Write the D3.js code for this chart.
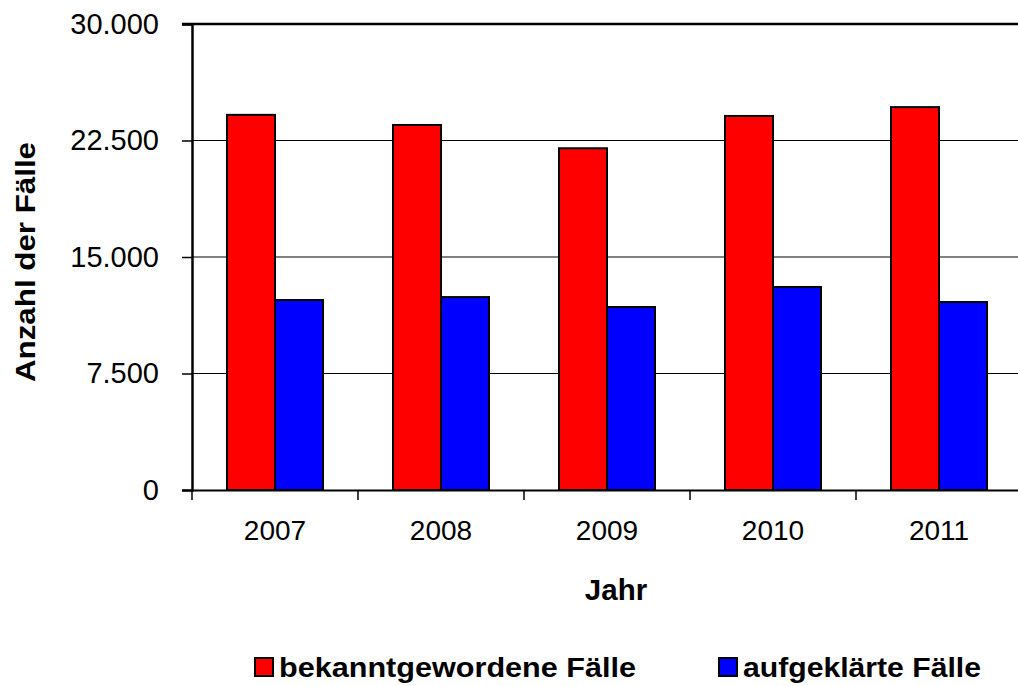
<!DOCTYPE html>
<html>
<head>
<meta charset="utf-8">
<script src="https://cdn.jsdelivr.net/npm/d3@7"></script>
<style>
  body { margin: 0; background: #fff; }
  text { font-family: "Liberation Sans", Arial, sans-serif; }
</style>
</head>
<body>
<div id="chart"></div>
<script>
const years = ['2007', '2008', '2009', '2010', '2011']
const bekannt = [24150, 23500, 22000, 24080, 24650]
const aufgeklaert = [12230, 12420, 11780, 13070, 12100]
const yTicks = [0, 7500, 15000, 22500, 30000]
const seriesNames = ['bekanntgewordene Fälle', 'aufgeklärte Fälle']
const seriesColors = ['#ff0000', '#0000ff']

function BarChart(container) {
    const width = 1018
    const height = 686
    const margin = {left: 192, top: 24, right: -4, bottom: 196}
    const innerW = width - margin.left - margin.right
    const innerH = height - margin.top - margin.bottom

    const data = years.map((y, i) => ({year: y, values: [bekannt[i], aufgeklaert[i]]}))

    const x = d3.scaleBand()
        .domain(years)
        .range([0, innerW])
        .paddingInner(0)
        .paddingOuter(0)

    const xSub = d3.scaleBand()
        .domain([0, 1])
        .range([35, x.bandwidth() - 35])

    const y = d3.scaleLinear()
        .domain([0, 30000])
        .range([innerH, 0])

    const fmt = d => d3.format(',')(d).replace(/,/g, '.')

    const svg = d3.select(container)
        .append('svg')
        .attr('width', width)
        .attr('height', height)

    const g = svg.append('g')
        .attr('transform', `translate(${margin.left}, ${margin.top})`)

    // gridlines
    g.selectAll('.grid')
        .data(yTicks.slice(1, -1))
        .join('line')
        .attr('x1', 0)
        .attr('x2', innerW)
        .attr('y1', d => y(d))
        .attr('y2', d => y(d))
        .attr('stroke', '#000')
        .attr('stroke-width', 1)

    // top frame line
    g.append('line')
        .attr('x1', -10).attr('x2', innerW)
        .attr('y1', y(30000)).attr('y2', y(30000))
        .attr('stroke', '#000')
        .attr('stroke-width', 2.5)

    // bars
    const groups = g.selectAll('.grp')
        .data(data)
        .join('g')
        .attr('transform', d => `translate(${x(d.year)},0)`)

    groups.selectAll('rect')
        .data(d => d.values.map((v, i) => ({v, i})))
        .join('rect')
        .attr('x', d => xSub(d.i))
        .attr('width', xSub.bandwidth())
        .attr('y', d => y(d.v))
        .attr('height', d => innerH - y(d.v))
        .attr('fill', d => seriesColors[d.i])
        .attr('stroke', '#000')
        .attr('stroke-width', 2)

    // y axis
    const yAxis = g.append('g')
        .call(d3.axisLeft(y).tickValues(yTicks).tickFormat(fmt).tickSize(10).tickPadding(23))
    yAxis.select('.domain').attr('stroke-width', 2.5)
    yAxis.selectAll('line').attr('stroke-width', 1.5)
    yAxis.selectAll('text')
        .attr('font-size', 29)
        .attr('fill', '#000')
        .attr('font-family', '"Liberation Sans", Arial, sans-serif')

    // x axis
    const xAxis = g.append('g')
        .attr('transform', `translate(0,${innerH})`)
        .call(d3.axisBottom(x).tickSize(0).tickPadding(30))
    xAxis.select('.domain').attr('stroke-width', 2)
    xAxis.selectAll('text')
        .attr('font-size', 28)
        .attr('fill', '#000')
        .attr('font-family', '"Liberation Sans", Arial, sans-serif')

    // category separator ticks
    g.selectAll('.sep')
        .data(years)
        .join('line')
        .attr('x1', d => x(d))
        .attr('x2', d => x(d))
        .attr('y1', innerH)
        .attr('y2', innerH + 10)
        .attr('stroke', '#000')
        .attr('stroke-width', 1.5)

    // axis titles
    svg.append('text')
        .attr('x', 616)
        .attr('y', 600)
        .attr('text-anchor', 'middle')
        .attr('font-size', 29.5)
        .attr('font-weight', 'bold')
        .text('Jahr')

    svg.append('text')
        .attr('transform', 'translate(35,262) rotate(-90)')
        .attr('text-anchor', 'middle')
        .attr('font-size', 28)
        .attr('font-weight', 'bold')
        .attr('textLength', 240)
        .attr('lengthAdjust', 'spacingAndGlyphs')
        .text('Anzahl der Fälle')

    // legend
    const legendX = [255, 719]
    const legendLen = [357, 238]
    const legend = svg.selectAll('.legend')
        .data(seriesNames)
        .join('g')
        .attr('transform', (d, i) => `translate(${legendX[i]}, 658)`)

    legend.append('rect')
        .attr('width', 18)
        .attr('height', 18)
        .attr('fill', (d, i) => seriesColors[i])
        .attr('stroke', '#000')
        .attr('stroke-width', 2)

    legend.append('text')
        .attr('x', 24)
        .attr('y', 19)
        .attr('font-size', 28)
        .attr('font-weight', 'bold')
        .attr('textLength', (d, i) => legendLen[i])
        .attr('lengthAdjust', 'spacingAndGlyphs')
        .text(d => d)
}

BarChart('#chart')
</script>
</body>
</html>
